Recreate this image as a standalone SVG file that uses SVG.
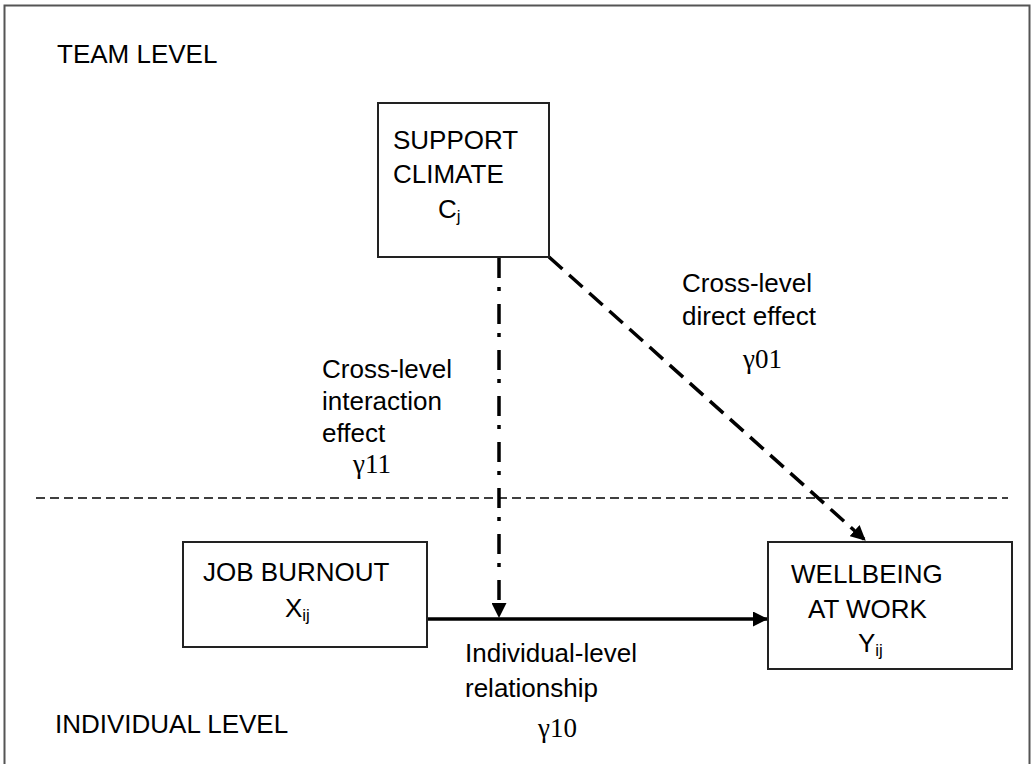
<svg xmlns="http://www.w3.org/2000/svg" width="1032" height="764" viewBox="0 0 1032 764">
  <style>
    .lbl { font-family: "Liberation Sans", Arial, sans-serif; font-size: 26px; fill: #000; }
    .sub { font-size: 17px; }
    .coef { font-family: "Liberation Serif", "Times New Roman", serif; font-size: 27px; fill: #000; }
    .box { fill: #fff; stroke: #222; stroke-width: 2; }
    .conn { fill: none; stroke: #000; stroke-width: 3.5; }
  </style>
  <defs>
    <marker id="arrow" markerUnits="userSpaceOnUse" markerWidth="15" markerHeight="15" refX="14" refY="7.5" orient="auto">
      <path d="M0,0 L15,7.5 L0,15 Z" fill="#000"/>
    </marker>
  </defs>

  <rect width="1032" height="764" fill="#fff"/>
  <!-- outer frame -->
  <rect x="4.5" y="5.5" width="1025" height="780" fill="none" stroke="#555" stroke-width="2"/>

  <!-- level separator -->
  <line x1="36" y1="498" x2="1008" y2="498" stroke="#000" stroke-width="1.6" stroke-dasharray="9 5"/>

  <text class="lbl" x="57" y="63">TEAM LEVEL</text>
  <text class="lbl" x="55" y="733">INDIVIDUAL LEVEL</text>

  <!-- connectors -->
  <g id="connectors">
    <line class="conn" x1="499" y1="258" x2="499" y2="617" stroke-dasharray="20 9 4 13" marker-end="url(#arrow)"/>
    <line class="conn" x1="549" y1="257" x2="865" y2="540" stroke-dasharray="18 9" marker-end="url(#arrow)"/>
    <line class="conn" x1="427" y1="619" x2="767" y2="619" marker-end="url(#arrow)"/>
  </g>

  <!-- connector labels -->
  <g id="labels">
    <text class="lbl" x="322" y="378">Cross-level</text>
    <text class="lbl" x="322" y="410">interaction</text>
    <text class="lbl" x="322" y="442">effect</text>
    <text class="coef" x="353" y="473">γ11</text>

    <text class="lbl" x="682" y="292">Cross-level</text>
    <text class="lbl" x="682" y="325">direct effect</text>
    <text class="coef" x="743" y="368">γ01</text>

    <text class="lbl" x="465" y="662">Individual-level</text>
    <text class="lbl" x="465" y="697">relationship</text>
    <text class="coef" x="538" y="737">γ10</text>
  </g>

  <g id="support-climate">
    <rect class="box" x="378" y="103" width="171" height="154"/>
    <text class="lbl" x="393" y="149">SUPPORT</text>
    <text class="lbl" x="393" y="183">CLIMATE</text>
    <text class="lbl" x="438" y="218">C<tspan class="sub" dy="4">j</tspan></text>
  </g>

  <g id="job-burnout">
    <rect class="box" x="183" y="542" width="244" height="105"/>
    <text class="lbl" x="203" y="581">JOB BURNOUT</text>
    <text class="lbl" x="285" y="617">X<tspan class="sub" dy="4">ij</tspan></text>
  </g>

  <g id="wellbeing">
    <rect class="box" x="768" y="542" width="244" height="127"/>
    <text class="lbl" x="791" y="583">WELLBEING</text>
    <text class="lbl" x="808" y="618">AT WORK</text>
    <text class="lbl" x="858" y="652">Y<tspan class="sub" dy="4">ij</tspan></text>
  </g>
</svg>
